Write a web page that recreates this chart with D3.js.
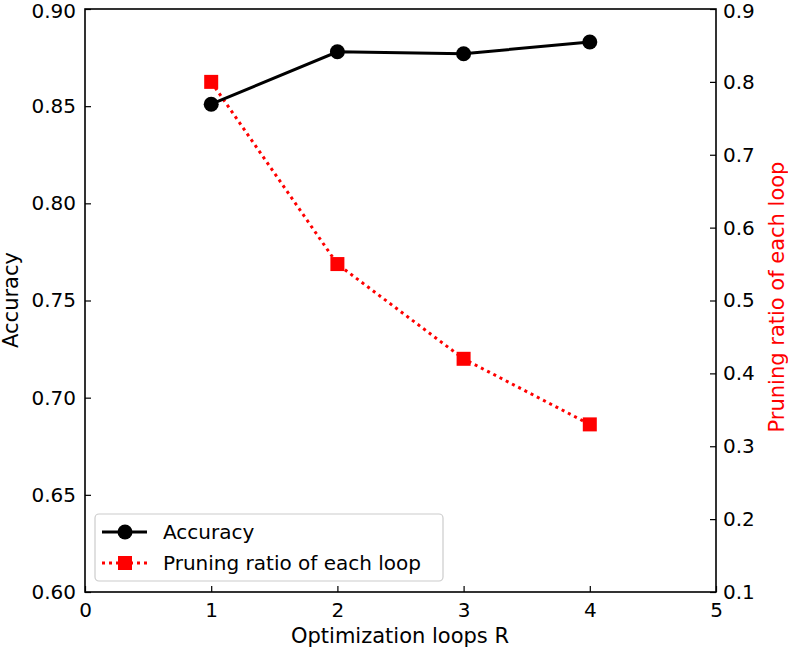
<!DOCTYPE html>
<html><head><meta charset="utf-8">
<script src="https://cdn.jsdelivr.net/npm/d3@7"></script>
<style>body{margin:0;background:#fff}svg{display:block}text{font-family:"DejaVu Sans",sans-serif}</style>
</head><body><svg id="c" width="788" height="647"></svg>
<script>
const loops = [1, 2, 3, 4];
const accuracy = [0.851, 0.878, 0.877, 0.883];
const pruning = [0.80, 0.55, 0.42, 0.33];
const xTicks = [0, 1, 2, 3, 4, 5];
const yLeftTicks = [0.60, 0.65, 0.70, 0.75, 0.80, 0.85, 0.90];
const yRightTicks = [0.1, 0.2, 0.3, 0.4, 0.5, 0.6, 0.7, 0.8, 0.9];

const svg = d3.select("#c");
const L = 85, R = 716, T = 9, B = 592;
const x = d3.scaleLinear().domain([0, 5]).range([L, R]);
const yL = d3.scaleLinear().domain([0.6, 0.9]).range([B, T]);
const yR = d3.scaleLinear().domain([0.1, 0.9]).range([B, T]);
const fs = 20, fl = 21;

// axes
const gx = svg.append("g").attr("transform", `translate(0,${B})`)
  .call(d3.axisBottom(x).tickValues(xTicks).tickFormat(d3.format("d")).tickSizeInner(-6).tickSizeOuter(0).tickPadding(10));
const gl = svg.append("g").attr("transform", `translate(${L},0)`)
  .call(d3.axisLeft(yL).tickValues(yLeftTicks).tickFormat(d3.format(".2f")).tickSizeInner(-6).tickSizeOuter(0).tickPadding(9));
const gr = svg.append("g").attr("transform", `translate(${R},0)`)
  .call(d3.axisRight(yR).tickValues(yRightTicks).tickFormat(d3.format(".1f")).tickSizeInner(-6).tickSizeOuter(0).tickPadding(7));
[gx, gl, gr].forEach(g => {
  g.select(".domain").remove();
  g.selectAll(".tick line").attr("stroke", "#000").attr("stroke-width", 1.2);
  g.selectAll(".tick text").attr("font-size", fs).attr("fill", "#000").attr("font-family", "DejaVu Sans");
});
gx.selectAll(".tick text").attr("dy", "0.75em");
// keep the topmost labels inside the canvas
gl.selectAll(".tick text").filter(d => d === 0.90).attr("y", 2);
gr.selectAll(".tick text").filter(d => d === 0.9).attr("y", 2);

// frame
svg.append("rect").attr("x", L).attr("y", T).attr("width", R - L).attr("height", B - T)
  .attr("fill", "none").attr("stroke", "#000").attr("stroke-width", 1.6);

// axis labels
svg.append("text").attr("x", 400).attr("y", 643).attr("text-anchor", "middle").attr("font-size", fl).text("Optimization loops R");
svg.append("text").attr("transform", "translate(18,300) rotate(-90)").attr("text-anchor", "middle").attr("font-size", fl).text("Accuracy");
svg.append("text").attr("transform", "translate(784,297) rotate(-90)").attr("text-anchor", "middle").attr("font-size", fl).attr("fill", "#ff0000").text("Pruning ratio of each loop");

// pruning series
const lineR = d3.line().x((d, i) => x(loops[i])).y(d => yR(d));
svg.append("path").datum(pruning).attr("d", lineR).attr("fill", "none").attr("stroke", "#ff0000")
  .attr("stroke-width", 3).attr("stroke-dasharray", "3,4");
svg.selectAll(".sq").data(pruning).enter().append("rect")
  .attr("x", (d, i) => x(loops[i]) - 7).attr("y", d => yR(d) - 7).attr("width", 14).attr("height", 14).attr("fill", "#ff0000");

// accuracy series
const lineL = d3.line().x((d, i) => x(loops[i])).y(d => yL(d));
svg.append("path").datum(accuracy).attr("d", lineL).attr("fill", "none").attr("stroke", "#000").attr("stroke-width", 3);
svg.selectAll(".ci").data(accuracy).enter().append("circle")
  .attr("cx", (d, i) => x(loops[i])).attr("cy", d => yL(d)).attr("r", 7.5).attr("fill", "#000");

// legend
const lg = svg.append("g");
lg.append("rect").attr("x", 95).attr("y", 514).attr("width", 348).attr("height", 67).attr("rx", 4)
  .attr("fill", "#fff").attr("stroke", "#cccccc").attr("stroke-width", 1.2);
lg.append("line").attr("x1", 102).attr("x2", 147).attr("y1", 532).attr("y2", 532).attr("stroke", "#000").attr("stroke-width", 3);
lg.append("circle").attr("cx", 125).attr("cy", 532).attr("r", 7.5).attr("fill", "#000");
lg.append("text").attr("x", 163).attr("y", 532).attr("dy", "0.35em").attr("font-size", fs).text("Accuracy");
lg.append("line").attr("x1", 102).attr("x2", 147).attr("y1", 563).attr("y2", 563).attr("stroke", "#ff0000").attr("stroke-width", 3).attr("stroke-dasharray", "3,4");
lg.append("rect").attr("x", 118).attr("y", 556).attr("width", 14).attr("height", 14).attr("fill", "#ff0000");
lg.append("text").attr("x", 163).attr("y", 563).attr("dy", "0.35em").attr("font-size", fs).text("Pruning ratio of each loop");
</script></body></html>
